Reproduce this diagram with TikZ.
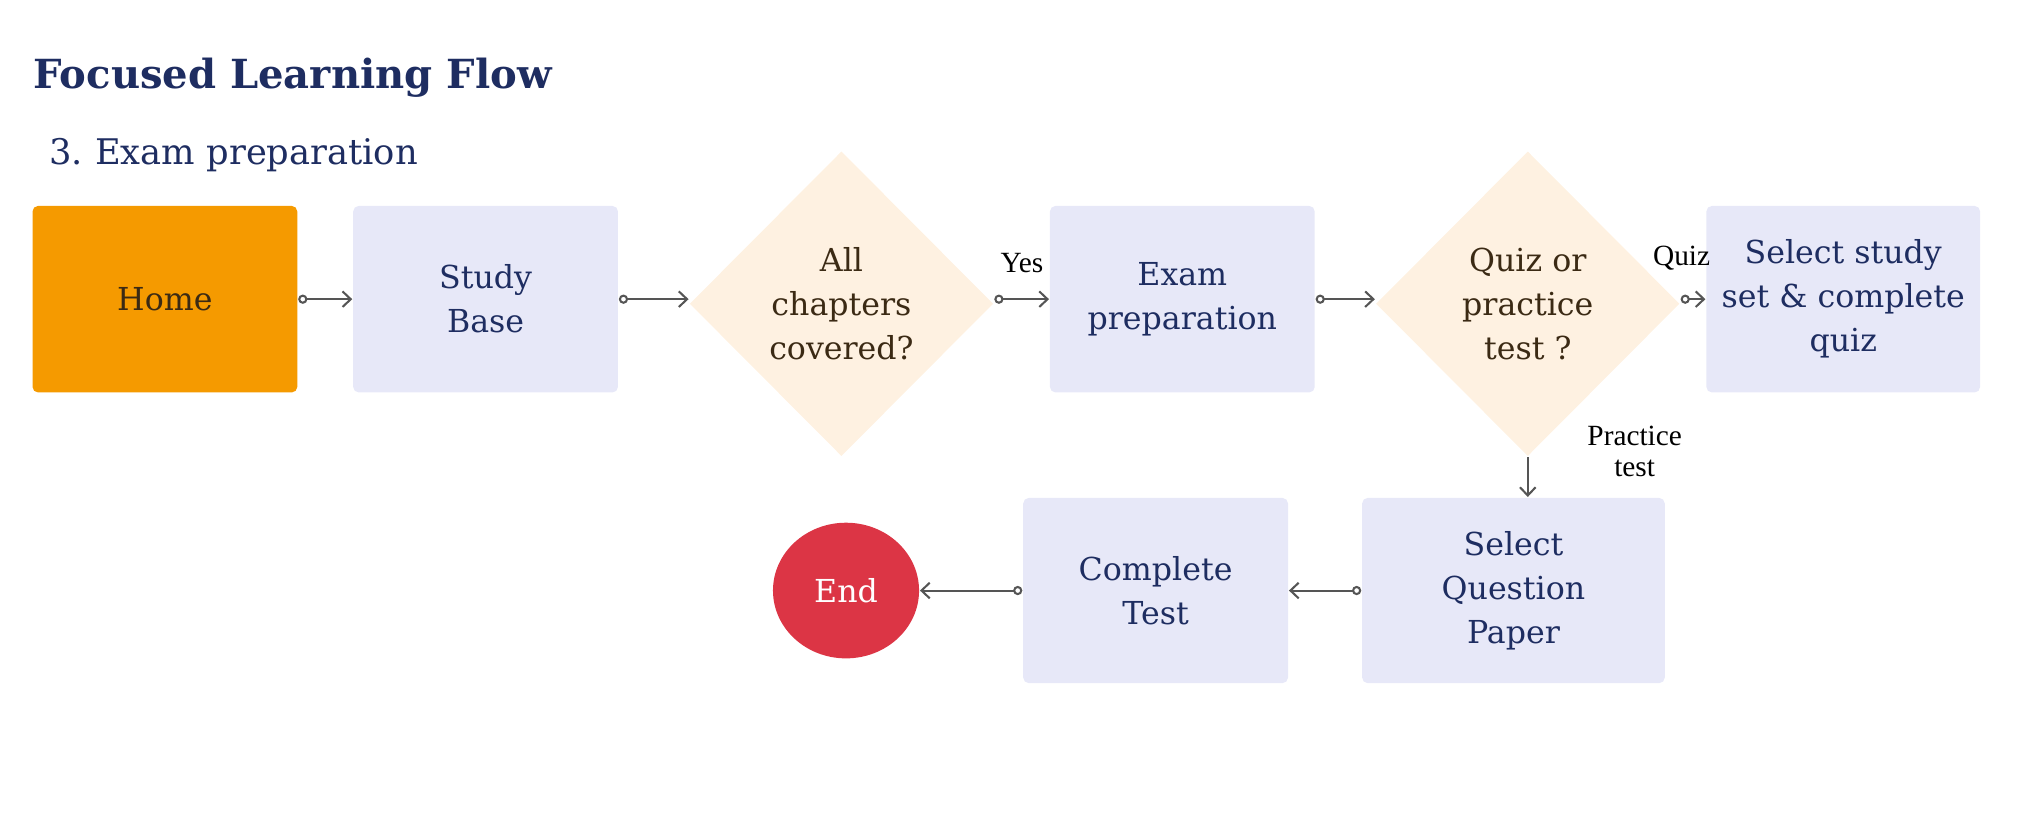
\documentclass[tikz,border=0pt]{standalone}
\usepackage{fontspec}
\setmainfont{DejaVu Serif}
\newfontfamily\lblfont{Liberation Serif}
\usetikzlibrary{arrows.meta,shapes.geometric}

\definecolor{homeorange}{HTML}{F59A00}
\definecolor{boxblue}{HTML}{E7E8F8}
\definecolor{decisioncream}{HTML}{FEF1E1}
\definecolor{endred}{HTML}{DC3545}
\definecolor{navy}{HTML}{1E2D61}
\definecolor{darkbrown}{HTML}{3B2A14}
\definecolor{arrowgray}{HTML}{555555}

\newcommand\nodefont{\fontsize{6.9}{9.6}\selectfont}

\begin{document}
\begin{tikzpicture}[x=0.01cm,y=-0.01cm,
  box/.style={rectangle,rounded corners=1.2pt,fill=boxblue,text=navy,
    minimum width=2.03cm,minimum height=1.43cm,align=center,font=\nodefont},
  decision/.style={diamond,fill=decisioncream,text=darkbrown,minimum width=2.33cm,
    minimum height=2.34cm,inner sep=0pt,align=center,font=\nodefont},
  lbl/.style={font=\lblfont\fontsize{6.4}{6.8}\selectfont,align=center,inner sep=0pt},
  flow/.style={draw=arrowgray,line width=0.45pt,
    {Circle[open,length=2pt,width=2pt]}-{Straight Barb[length=1.8pt,width=3.4pt]}},
  drop/.style={draw=arrowgray,line width=0.45pt,-{Straight Barb[length=1.8pt,width=3.4pt]}}]

  \useasboundingbox (0,0) rectangle (1568,629);

  % titles
  \node[anchor=base west,inner sep=0pt,text=navy,font=\bfseries\fontsize{8.75}{11}\selectfont] (title) at (25,68) {Focused Learning Flow};
  \node[anchor=base west,inner sep=0pt,text=navy,font=\fontsize{7.7}{9}\selectfont] (subtitle) at (37,126) {3.\hspace{0.35em}Exam preparation};

  % top row
  \node[box,fill=homeorange,text=darkbrown] (home) at (126.5,229.5) {Home};
  \node[box] (study) at (372.5,229.5) {Study\\Base};
  \node[decision] (chapters) at (645.5,233) {All\\chapters\\covered?};
  \node[box] (exam) at (907,229.5) {Exam\\preparation};
  \node[decision] (quizorpractice) at (1172,233) {Quiz or\\practice\\test ?};
  \node[box,minimum width=2.04cm] (quizset) at (1414,229.5) {Select study\\set \& complete\\quiz};

  % bottom row
  \node[box,minimum width=2.32cm,minimum height=1.42cm] (qpaper) at (1161,453) {Select\\Question\\Paper};
  \node[box,minimum height=1.42cm] (complete) at (886.5,453) {Complete\\Test};
  \node[ellipse,fill=endred,text=white,minimum width=1.12cm,minimum height=1.04cm,font=\nodefont] (endnode) at (649,453) {End};

  % connectors
  \draw[flow] (home) -- (study);
  \draw[flow] (study.east) -- (study.east -| chapters.west);
  \draw[flow] (chapters.east |- exam.west) -- (exam.west);
  \draw[flow] (exam.east) -- (exam.east -| quizorpractice.west);
  \draw[flow] (quizorpractice.east |- quizset.west) -- (quizset.west);
  \draw[flow] (qpaper) -- (complete);
  \draw[flow] (complete) -- (endnode);
  \draw[drop] (quizorpractice.south) -- (quizorpractice.south |- qpaper.north);

  % branch labels
  \node[lbl] (yeslbl) at (784,202) {Yes};
  \node[lbl] (quizlbl) at (1290,198) {Quiz};
  \node[lbl] (practicelbl) at (1254,346) {Practice\\test};
\end{tikzpicture}
\end{document}
